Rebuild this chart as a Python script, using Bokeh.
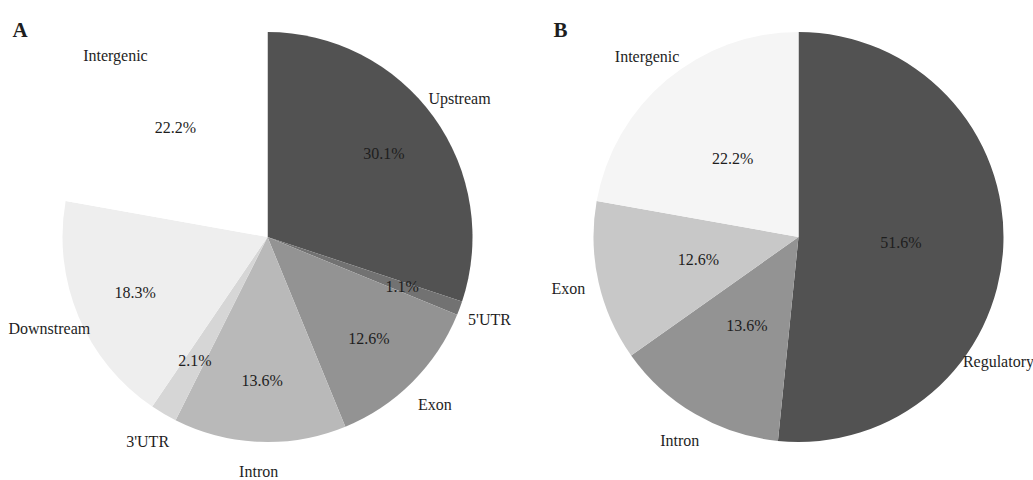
import numpy as np
from bokeh.plotting import figure
from bokeh.models import Range1d, ColumnDataSource
from bokeh.core.properties import value
from bokeh.embed import file_html
from bokeh.resources import INLINE

# ---- data ----
a_categories = ["Upstream", "5'UTR", "Exon", "Intron", "3'UTR", "Downstream", "Intergenic"]
a_values = [30.1, 1.1, 12.6, 13.6, 2.1, 18.3, 22.2]
a_colors = ["#525252", "#727272", "#939393", "#b9b9b9", "#d6d6d6", "#eeeeee", "#ffffff"]

b_categories = ["Regulatory", "Intron", "Exon", "Intergenic"]
b_values = [51.6, 13.6, 12.6, 22.2]
b_colors = ["#525252", "#939393", "#c8c8c8", "#f5f5f5"]

FONT = "'Liberation Serif', 'Times New Roman', serif"
W, H = 1033, 480

p = figure(width=W, height=H, output_backend="svg", toolbar_location=None,
           x_range=Range1d(0, W), y_range=Range1d(0, H),
           min_border=0, outline_line_color=None)
p.axis.visible = False
p.grid.visible = False
p.background_fill_color = "white"
p.border_fill_color = "white"


def draw_pie(cx, cy, R, cats, vals, cols, pct_frac, lab_frac,
             angle_override=None, frac_override=None):
    angle_override = angle_override or {}
    frac_override = frac_override or {}
    vals = np.array(vals, dtype=float)
    frac = vals / vals.sum()
    cum = np.concatenate([[0.0], np.cumsum(frac)])
    a0 = np.pi / 2 - 2 * np.pi * cum[:-1]   # start (clockwise from 12 o'clock)
    a1 = np.pi / 2 - 2 * np.pi * cum[1:]
    mid = (a0 + a1) / 2
    src = ColumnDataSource(dict(start=a1, end=a0, color=cols))
    p.wedge(x=cx, y=cy, radius=R, start_angle="start", end_angle="end",
            fill_color="color", line_color=None, source=src)
    lab_ang = np.array([np.deg2rad(angle_override[c]) if c in angle_override else m
                        for c, m in zip(cats, mid)])
    lab_r = np.array([frac_override.get(c, lab_frac) for c in cats]) * R
    pct = dict(x=cx + pct_frac * R * np.cos(mid), y=cy + pct_frac * R * np.sin(mid),
               t=[f"{v:.1f}%" for v in vals])
    lab = dict(x=cx + lab_r * np.cos(lab_ang), y=cy + lab_r * np.sin(lab_ang),
               t=list(cats))
    for d in (pct, lab):
        p.text(x="x", y="y", text="t", source=ColumnDataSource(d),
               text_font=value(FONT), text_font_size="16px", text_color="#1e1e1e",
               text_align="center", text_baseline="middle")


draw_pie(267, 243.5, 205, a_categories, a_values, a_colors, 0.70, 1.155,
         frac_override={"Intron": 1.145})
draw_pie(798, 243.5, 205, b_categories, b_values, b_colors, 0.50, 1.15,
         angle_override={"Regulatory": -32})

p.text(x=[12, 553], y=[451, 451], text=["A", "B"], text_font=value(FONT),
       text_font_size="21px", text_font_style="bold", text_color="#1e1e1e",
       text_align="left", text_baseline="alphabetic")

open("out.html", "w").write(file_html(p, INLINE))
